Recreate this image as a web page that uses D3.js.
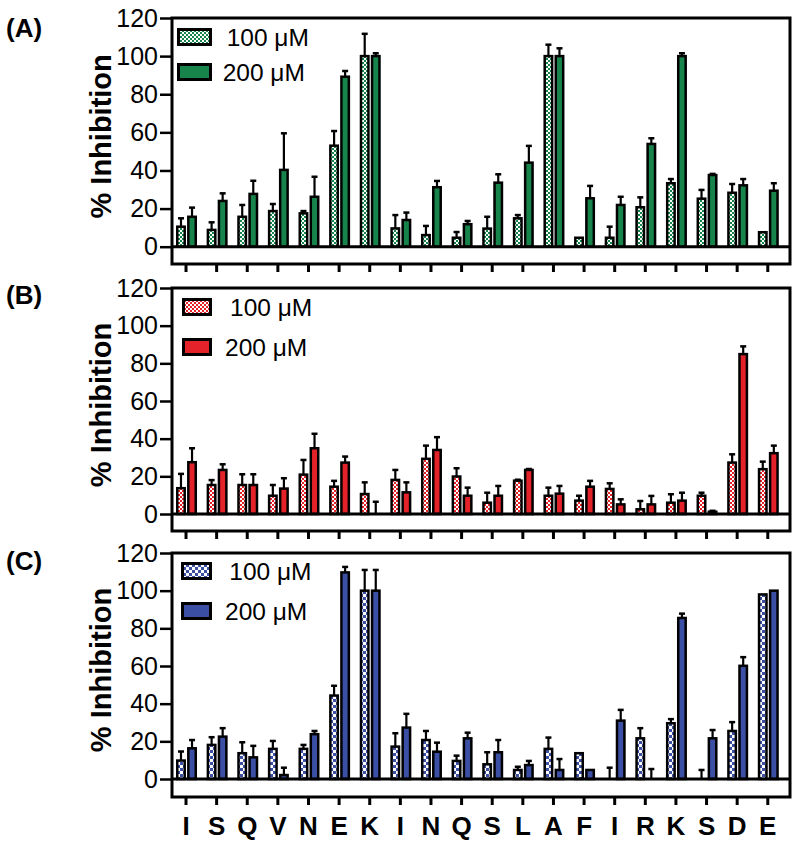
<!DOCTYPE html>
<html>
<head>
<meta charset="utf-8">
<script src="https://cdn.jsdelivr.net/npm/d3@7"></script>
<style>
  html, body { margin: 0; padding: 0; background: #fff; }
  svg { display: block; font-family: Arial, "Liberation Sans", sans-serif; }
</style>
</head>
<body>
<script>
// ---------------- data ----------------
const categories = ["I","S","Q","V","N","E","K","I","N","Q","S","L","A","F","I","R","K","S","D","E"];
const yTicks = [0, 20, 40, 60, 80, 100, 120];
const seriesLabels = ["100 \u03BCM", "200 \u03BCM"];
const panelLabels = ["(A)", "(B)", "(C)"];
const yTitle = "% Inhibition";

// Panel A
const a100    = [10.5, 8.8, 15.7, 18.7, 17.5, 53, 100, 9.6, 6.1, 4.7, 9.5, 14.9, 100, 4.7, 4.7, 20.7, 33.3, 25.2, 28.3, 7.6];
const a100Err = [4.4, 4.0, 6.2, 3.7, 1.2, 7.7, 11.7, 7.0, 4.8, 3.0, 6.2, 1.7, 6.0, 0, 5.8, 5.2, 2.2, 4.6, 4.6, 0];
const a200    = [15.7, 24, 27.7, 40.3, 26.2, 89.2, 100, 14, 31.2, 11.8, 33.6, 44.1, 100, 25.4, 21.9, 53.9, 100, 37.6, 32.2, 29.4];
const a200Err = [4.8, 4.0, 6.9, 19.2, 10.5, 3.0, 1.5, 3.9, 3.3, 1.7, 4.4, 8.8, 4.1, 6.5, 4.3, 3.0, 1.5, 0.6, 3.3, 3.9];
// Panel B
const b100    = [13.7, 15.4, 15.4, 9.7, 20.9, 14.5, 10.6, 18.1, 29.3, 19.9, 6, 17.7, 9.7, 7.1, 13.3, 2.5, 6, 9.7, 27.3, 23.8];
const b100Err = [7.6, 2.6, 5.7, 5.7, 7.8, 3.1, 6.2, 5.3, 7.0, 4.4, 5.3, 0.5, 4.3, 2.6, 3.0, 4.4, 4.5, 1.6, 4.4, 4.0];
const b200    = [27.5, 23.4, 15.4, 13.5, 34.9, 27.3, 0, 11.5, 34, 9.7, 9.7, 23.4, 10.8, 14.5, 5.1, 5.1, 7.1, 1.2, 84.9, 32.3];
const b200Err = [7.4, 3.0, 5.7, 5.5, 7.7, 3.2, 6.5, 5.3, 6.8, 4.3, 5.2, 0.5, 4.1, 3.1, 2.7, 4.5, 4.2, 0.5, 4.1, 4.0];
// Panel C
const c100    = [9.8, 18.1, 13.7, 16, 16, 44.3, 100, 17.2, 20.7, 9.6, 7.8, 4.8, 16, 13.7, 0, 21.6, 29.6, 0, 25.5, 98];
const c100Err = [4.8, 4.1, 5.8, 4.2, 2.1, 5.2, 11.0, 7.1, 4.8, 2.8, 6.4, 1.7, 6.0, 0, 6.0, 5.4, 2.2, 4.8, 4.7, 0];
const c200    = [16.3, 22.5, 11.5, 2.1, 23.8, 109.7, 100, 27.3, 14.5, 21.6, 14.2, 7.4, 4.8, 4.8, 31, 0, 85.5, 21.6, 60.1, 100];
const c200Err = [4.4, 4.5, 6.1, 3.9, 1.7, 2.9, 11.0, 7.3, 4.8, 3.0, 6.5, 2.2, 5.8, 0, 5.7, 5.3, 2.3, 4.4, 4.6, 0];

const panelColors = ["#17844b", "#e42229", "#3b4fa4"];
const panelSeries = [[a100, a200], [b100, b200], [c100, c200]];
const panelErrors = [[a100Err, a200Err], [b100Err, b200Err], [c100Err, c200Err]];

// ---------------- layout ----------------
const W = 800, H = 845;
const frameLeft = 172, frameRight = 790;
const layout = [
  { top: 18,  zero: 246.7, bottom: 264, labelY: 37,  leg: [10, 45], swX: 177, txX: [226.7, 222.7], chk: 2 },
  { top: 288, zero: 514,   bottom: 531, labelY: 304, leg: [10, 50], swX: 182, txX: [230, 225],     chk: 2 },
  { top: 553, zero: 779,   bottom: 797, labelY: 570, leg: [9, 49],  swX: 181, txX: [229.3, 225],   chk: 3 }
];

const svg = d3.select("body").append("svg").attr("width", W).attr("height", H);
svg.append("rect").attr("width", W).attr("height", H).attr("fill", "#fff");
const defs = svg.append("defs");

layout.forEach((L, pi) => {
  const s = L.chk;
  const pat = defs.append("pattern")
    .attr("id", "chk" + pi)
    .attr("patternUnits", "userSpaceOnUse")
    .attr("width", 2 * s).attr("height", 2 * s);
  pat.append("rect").attr("width", 2 * s).attr("height", 2 * s).attr("fill", "#fff");
  pat.append("rect").attr("x", 0).attr("y", 0).attr("width", s).attr("height", s).attr("fill", panelColors[pi]);
  pat.append("rect").attr("x", s).attr("y", s).attr("width", s).attr("height", s).attr("fill", panelColors[pi]);
});

const x = d3.scaleBand().domain(d3.range(categories.length)).range([170.7, 783.1]).padding(0);
const xSub = d3.scaleBand().domain([0, 1]).range([-10, 11]).paddingInner(0.1);
const barStroke = 2.5;

layout.forEach((L, pi) => {
  const g = svg.append("g");
  const y = d3.scaleLinear().domain([0, 120]).range([L.zero, L.top]);
  const fills = ["url(#chk" + pi + ")", panelColors[pi]];

  // y axis
  const ya = g.append("g").attr("transform", `translate(${frameLeft},0)`)
    .call(d3.axisLeft(y).tickValues(yTicks).tickSize(12).tickPadding(2));
  ya.select(".domain").remove();
  ya.selectAll(".tick line").attr("stroke", "#000").attr("stroke-width", 2.5);
  ya.selectAll(".tick text").attr("font-size", 25).attr("fill", "#000")
    .attr("font-family", "Arial, 'Liberation Sans', sans-serif");

  // x axis
  const xa = g.append("g").attr("transform", `translate(0,${L.bottom})`)
    .call(d3.axisBottom(x).tickSize(8).tickPadding(12)
      .tickFormat(i => pi === 2 ? categories[i] : ""));
  xa.select(".domain").remove();
  xa.selectAll(".tick line").attr("stroke", "#000").attr("stroke-width", 3);
  xa.selectAll(".tick text").attr("font-size", 26).attr("font-weight", "bold").attr("fill", "#000")
    .attr("font-family", "Arial, 'Liberation Sans', sans-serif");

  // bars
  [0, 1].forEach(k => {
    const vals = panelSeries[pi][k];
    const errs = panelErrors[pi][k];
    const bx = i => x(i) + x.bandwidth() / 2 + xSub(k);
    g.append("g").selectAll("rect").data(vals).join("rect")
      .attr("x", (d, i) => bx(i) + barStroke / 2)
      .attr("width", xSub.bandwidth() - barStroke)
      .attr("y", d => y(d))
      .attr("height", d => y(0) - y(d))
      .attr("fill", fills[k])
      .attr("stroke", "#000").attr("stroke-width", barStroke);

    const eg = g.append("g");
    vals.forEach((v, i) => {
      const e = errs[i];
      if (!e) return;
      const cx = bx(i) + xSub.bandwidth() / 2;
      eg.append("line").attr("x1", cx).attr("x2", cx).attr("y1", y(v)).attr("y2", y(v + e))
        .attr("stroke", "#000").attr("stroke-width", 2.2);
      eg.append("line").attr("x1", cx - 3).attr("x2", cx + 3).attr("y1", y(v + e)).attr("y2", y(v + e))
        .attr("stroke", "#000").attr("stroke-width", 2.5);
    });
  });

  // baseline at zero
  g.append("line").attr("x1", frameLeft).attr("x2", frameRight)
    .attr("y1", y(0)).attr("y2", y(0)).attr("stroke", "#000").attr("stroke-width", 3);

  // frame
  g.append("rect").attr("x", frameLeft).attr("y", y(120))
    .attr("width", frameRight - frameLeft).attr("height", L.bottom - y(120))
    .attr("fill", "none").attr("stroke", "#000").attr("stroke-width", 3);

  // legend
  [0, 1].forEach(k => {
    const sy = L.top + L.leg[k];
    g.append("rect").attr("x", L.swX + 1.5).attr("y", sy + 1.5)
      .attr("width", 210.5 - L.swX - 1.5).attr("height", 15)
      .attr("fill", fills[k]).attr("stroke", "#000").attr("stroke-width", 3);
    g.append("text").attr("x", L.txX[k]).attr("y", sy + 17.5)
      .attr("font-size", 24.5).attr("fill", "#000").text(seriesLabels[k]);
  });

  // y title
  g.append("text")
    .attr("transform", `translate(111,${(L.top + L.zero) / 2 + 4}) rotate(-90)`)
    .attr("text-anchor", "middle").attr("font-size", 29).attr("font-weight", "bold")
    .attr("fill", "#000").text(yTitle);

  // panel label
  g.append("text").attr("x", 6).attr("y", L.labelY)
    .attr("font-size", 26).attr("font-weight", "bold").attr("fill", "#000")
    .text(panelLabels[pi]);
});
</script>
</body>
</html>
